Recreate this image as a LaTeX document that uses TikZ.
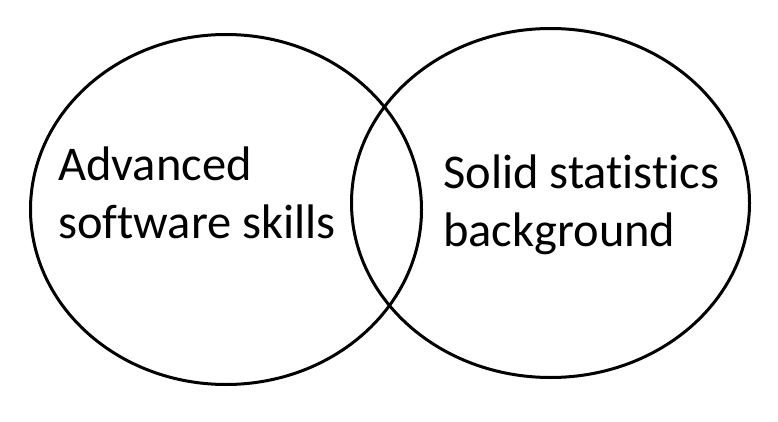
\documentclass[tikz,border=0pt]{standalone}
\usepackage{fontspec}
\setmainfont{Carlito}[Ligatures={NoCommon}]
\usetikzlibrary{shapes.geometric}

\begin{document}
\begin{tikzpicture}[x=1pt,y=-1pt,
  circ/.style={draw,ellipse,line width=3pt,inner sep=0pt},
  txt/.style={font=\fontsize{48.5}{58}\selectfont,align=left,anchor=base west,inner sep=0pt}]
\useasboundingbox (0,0) rectangle (778,422);
\draw[] (226,209.5) node[circ,minimum width=391pt,minimum height=350pt] (software) {};
\draw[] (550.5,203) node[circ,minimum width=398pt,minimum height=349pt] (stats) {};
\node[txt] (softlabel) at (58,238) {Advanced\\software skills};
\node[txt] (statslabel) at (443,246) {Solid statistics\\background};
\end{tikzpicture}
\end{document}
